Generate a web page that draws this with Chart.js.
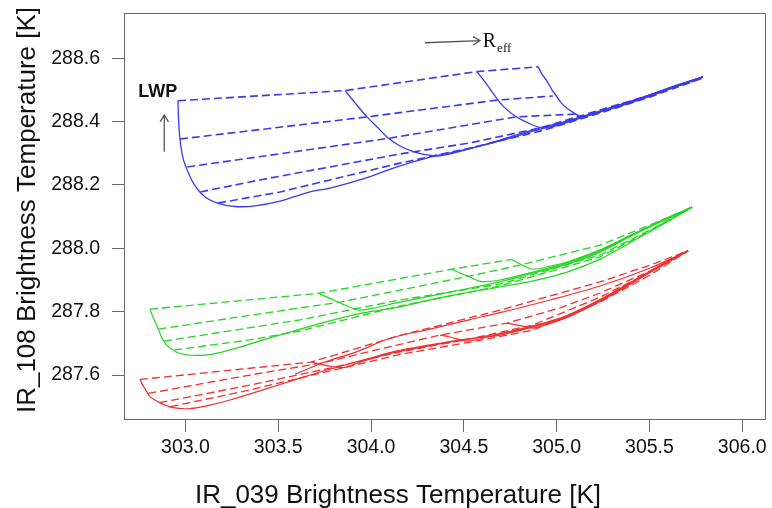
<!DOCTYPE html>
<html>
<head>
<meta charset="utf-8">
<script src="https://cdn.jsdelivr.net/npm/chart.js@4"></script>
<style>
  html, body { margin: 0; padding: 0; background: #fff; }
  #wrap { width: 772px; height: 508px; position: relative; }
</style>
</head>
<body>
<div id="wrap"><canvas id="lut"></canvas></div>
<script>
// Axis ticks
const xTicks = [303.0, 303.5, 304.0, 304.5, 305.0, 305.5, 306.0];
const yTicks = [287.6, 287.8, 288.0, 288.2, 288.4, 288.6];

// Blue table: curves of constant effective radius (solid), [IR_039, IR_108]
const blueReff1 = [[302.960,288.466],[302.963,288.405],[302.971,288.342],[302.987,288.285],[303.014,288.241],[303.052,288.197],[303.106,288.162],[303.176,288.142],[303.267,288.132],[303.375,288.134],[303.510,288.149],[303.671,288.178],[303.779,288.190],[303.957,288.219],[304.140,288.257],[304.318,288.288],[304.496,288.310],[304.695,288.339],[304.873,288.370],[305.056,288.399],[305.234,288.430],[305.412,288.462],[305.595,288.500],[305.788,288.541]];
const blueReff2 = [[303.860,288.498],[303.914,288.459],[303.978,288.415],[304.038,288.380],[304.092,288.348],[304.156,288.323],[304.221,288.307],[304.291,288.296],[304.372,288.292],[304.534,288.315],[304.695,288.342],[304.873,288.374],[305.056,288.402],[305.234,288.434],[305.412,288.467],[305.595,288.503],[305.788,288.541]];
const blueReff3 = [[304.570,288.558],[304.615,288.525],[304.657,288.490],[304.711,288.449],[304.776,288.418],[304.846,288.396],[304.911,288.382],[304.991,288.386],[305.126,288.412],[305.288,288.440],[305.450,288.471],[305.611,288.506],[305.788,288.541]];
const blueReff4 = [[304.901,288.573],[304.921,288.550],[304.948,288.528],[304.975,288.500],[305.002,288.478],[305.029,288.456],[305.056,288.442],[305.094,288.427],[305.137,288.416],[305.288,288.443],[305.450,288.473],[305.611,288.508],[305.788,288.541]];
// Blue table: lines of constant liquid water path (dashed)
const blueLwp1 = [[302.960,288.466],[303.860,288.498],[304.570,288.558],[304.901,288.573]];
const blueLwp2 = [[302.970,288.345],[303.978,288.415],[304.679,288.468],[304.980,288.481]];
const blueLwp3 = [[303.010,288.257],[304.092,288.347],[304.781,288.415],[305.104,288.424]];
const blueLwp4 = [[303.080,288.178],[303.402,288.216],[303.779,288.257],[304.156,288.298],[304.534,288.333],[304.911,288.380],[305.234,288.437],[305.504,288.484],[305.788,288.538]];
const blueLwp5 = [[303.176,288.143],[303.510,288.178],[303.779,288.216],[304.156,288.269],[304.534,288.317],[304.911,288.370],[305.234,288.427],[305.504,288.478],[305.788,288.538]];

// Green table
const greenReff1 = [[302.809,287.808],[302.825,287.783],[302.852,287.748],[302.879,287.711],[302.917,287.685],[302.971,287.668],[303.052,287.662],[303.149,287.666],[303.294,287.688],[303.418,287.711],[303.601,287.742],[303.779,287.771],[303.957,287.796],[304.156,287.815],[304.318,287.837],[304.479,287.856],[304.695,287.878],[304.873,287.897],[305.056,287.925],[305.234,287.966],[305.412,288.023],[305.595,288.083],[305.730,288.130]];
const greenReff2 = [[303.716,287.858],[303.779,287.842],[303.860,287.821],[303.941,287.805],[304.156,287.830],[304.426,287.862],[304.695,287.894],[304.873,287.922],[305.056,287.950],[305.234,287.988],[305.412,288.042],[305.595,288.093],[305.730,288.130]];
const greenReff3 = [[304.435,287.934],[304.479,287.922],[304.534,287.909],[304.596,287.895],[304.695,287.900],[304.873,287.925],[305.056,287.954],[305.234,287.992],[305.412,288.044],[305.595,288.094],[305.730,288.130]];
const greenReff4 = [[304.758,287.965],[304.792,287.954],[304.830,287.943],[304.874,287.934],[304.965,287.944],[305.056,287.957],[305.234,287.995],[305.412,288.045],[305.595,288.096],[305.730,288.130]];
const greenLwp1 = [[302.809,287.808],[303.716,287.858],[304.435,287.934],[304.758,287.965]];
const greenLwp2 = [[302.855,287.745],[303.617,287.812],[303.833,287.830],[304.156,287.868],[304.534,287.913],[304.803,287.947],[305.234,288.010],[305.503,288.074],[305.730,288.130]];
const greenLwp3 = [[302.885,287.707],[303.617,287.774],[304.156,287.837],[304.695,287.887],[305.234,287.979],[305.503,288.058],[305.730,288.130]];
const greenLwp4 = [[302.940,287.679],[303.348,287.711],[303.617,287.739],[304.156,287.818],[304.695,287.881],[305.234,287.973],[305.503,288.055],[305.730,288.130]];

// Red table
const redReff1 = [[302.755,287.586],[302.766,287.572],[302.782,287.557],[302.809,287.532],[302.863,287.512],[302.933,287.497],[303.025,287.494],[303.133,287.505],[303.240,287.521],[303.418,287.553],[303.601,287.587],[303.779,287.619],[303.957,287.647],[304.140,287.676],[304.318,287.695],[304.479,287.711],[304.695,287.726],[304.873,287.752],[305.056,287.783],[305.234,287.834],[305.412,287.894],[305.595,287.957],[305.708,287.992]];
const redReff2 = [[303.677,287.641],[303.736,287.633],[303.795,287.627],[303.860,287.624],[303.957,287.644],[304.140,287.673],[304.318,287.693],[304.479,287.709],[304.695,287.731],[304.873,287.755],[305.056,287.788],[305.234,287.838],[305.412,287.897],[305.595,287.958],[305.708,287.992]];
const redReff3 = [[304.372,287.726],[304.426,287.720],[304.479,287.712],[304.522,287.707],[304.695,287.729],[304.873,287.753],[305.056,287.786],[305.234,287.837],[305.412,287.895],[305.595,287.958],[305.708,287.992]];
const redReff4 = [[304.733,287.764],[304.776,287.759],[304.830,287.753],[304.873,287.748],[304.965,287.763],[305.056,287.782],[305.234,287.832],[305.412,287.892],[305.595,287.955],[305.708,287.992]];
const redReff5 = [[303.591,287.603],[303.752,287.641],[303.925,287.674],[304.102,287.716],[304.318,287.745],[304.534,287.775],[304.695,287.797],[304.965,287.837],[305.234,287.881],[305.504,287.938],[305.708,287.992]];
const redLwp1 = [[302.755,287.586],[303.677,287.641],[304.156,287.725],[304.695,287.805],[305.234,287.894],[305.504,287.947],[305.708,287.992]];
const redLwp2 = [[302.800,287.542],[303.348,287.600],[303.736,287.638],[304.048,287.682],[304.372,287.726],[304.733,287.764],[305.018,287.812],[305.234,287.859],[305.504,287.928],[305.708,287.992]];
const redLwp3 = [[302.860,287.513],[303.348,287.568],[303.779,287.622],[304.156,287.673],[304.534,287.714],[304.873,287.758],[305.234,287.846],[305.504,287.925],[305.708,287.992]];
const redLwp4 = [[302.920,287.500],[303.348,287.553],[303.779,287.613],[304.156,287.665],[304.534,287.704],[304.873,287.742],[305.234,287.830],[305.504,287.916],[305.708,287.992]];

const BLUE = 'rgb(58,58,238)';
const GREEN = 'rgb(34,214,34)';
const RED = 'rgb(240,48,48)';

function curve(arr, color, dashed, width) {
  return {
    data: arr.map(([x, y]) => ({ x, y })),
    borderColor: color,
    backgroundColor: color,
    borderWidth: width,
    borderDash: dashed ? [8, 4] : [],
    pointRadius: 0,
    pointHoverRadius: 0,
    showLine: true,
    fill: false,
    tension: dashed ? 0 : 0.3
  };
}

const datasets = [
  ...[blueReff1, blueReff2, blueReff3, blueReff4].map(a => curve(a, BLUE, false, 1.3)),
  ...[blueLwp1, blueLwp2, blueLwp3, blueLwp4, blueLwp5].map(a => curve(a, BLUE, true, 1.6)),
  ...[greenReff1, greenReff2, greenReff3, greenReff4].map(a => curve(a, GREEN, false, 1.2)),
  ...[greenLwp1, greenLwp2, greenLwp3, greenLwp4].map(a => curve(a, GREEN, true, 1.3)),
  ...[redReff1, redReff2, redReff3, redReff4, redReff5].map(a => curve(a, RED, false, 1.2)),
  ...[redLwp1, redLwp2, redLwp3, redLwp4].map(a => curve(a, RED, true, 1.3))
];

const SANS = '"Liberation Sans", Arial, Helvetica, sans-serif';
const SERIF = '"Liberation Serif", "Times New Roman", serif';

function arrow(ctx, x0, y0, x1, y1) {
  const ang = Math.atan2(y1 - y0, x1 - x0);
  const h = 8;
  ctx.beginPath();
  ctx.moveTo(x0, y0);
  ctx.lineTo(x1, y1);
  ctx.moveTo(x1 - h * Math.cos(ang - 0.55), y1 - h * Math.sin(ang - 0.55));
  ctx.lineTo(x1, y1);
  ctx.lineTo(x1 - h * Math.cos(ang + 0.55), y1 - h * Math.sin(ang + 0.55));
  ctx.stroke();
}

// Box around the plot region, axis titles and the LWP / Reff direction arrows
const decorations = {
  id: 'decorations',
  afterDraw(chart) {
    const { ctx, chartArea: a, scales: { x, y } } = chart;
    ctx.save();
    ctx.strokeStyle = '#6a6a6a';
    ctx.lineWidth = 1;
    ctx.strokeRect(a.left + 0.5, a.top + 0.5, a.width - 1, a.height - 1);

    ctx.fillStyle = '#111';
    ctx.font = '26px ' + SANS;
    ctx.textAlign = 'center';
    ctx.textBaseline = 'alphabetic';
    ctx.fillText('IR_039 Brightness Temperature [K]', 398, 503);
    ctx.save();
    ctx.translate(35, 210);
    ctx.rotate(-Math.PI / 2);
    ctx.fillText('IR_108 Brightness Temperature [K]', 0, 0);
    ctx.restore();

    // LWP increases upward
    ctx.textAlign = 'left';
    ctx.font = 'bold 18px ' + SANS;
    ctx.fillText('LWP', x.getPixelForValue(302.746), y.getPixelForValue(288.479));
    ctx.strokeStyle = '#555';
    ctx.lineWidth = 1.3;
    arrow(ctx, x.getPixelForValue(302.886), y.getPixelForValue(288.305),
               x.getPixelForValue(302.886), y.getPixelForValue(288.421));

    // Reff increases to the right
    arrow(ctx, x.getPixelForValue(304.291), y.getPixelForValue(288.649),
               x.getPixelForValue(304.587), y.getPixelForValue(288.656));
    const rx = x.getPixelForValue(304.602), ry = y.getPixelForValue(288.637);
    ctx.font = '20px ' + SERIF;
    ctx.fillText('R', rx, ry);
    const rw = ctx.measureText('R').width;
    ctx.font = '13px ' + SERIF;
    ctx.fillText('eff', rx + rw + 1, ry + 5);
    ctx.restore();
  }
};

const tickFont = { family: SANS, size: 19.5 };

new Chart(document.getElementById('lut'), {
  type: 'scatter',
  data: { datasets },
  options: {
    responsive: true,
    maintainAspectRatio: false,
    animation: false,
    events: [],
    layout: { padding: { left: 0, top: 13, right: 6, bottom: 0 } },
    plugins: { legend: { display: false }, tooltip: { enabled: false } },
    scales: {
      x: {
        type: 'linear',
        min: 302.669,
        max: 306.128,
        afterBuildTicks: s => { s.ticks = xTicks.map(v => ({ value: v })); },
        afterFit: s => { s.height = 88; s.paddingLeft = 0; s.paddingRight = 0; },
        ticks: { font: tickFont, color: '#111', padding: 4, maxRotation: 0, autoSkip: false,
                 callback: v => Number(v).toFixed(1) },
        grid: { drawOnChartArea: false, drawTicks: true, tickLength: 12, color: '#6a6a6a', lineWidth: 1 },
        border: { display: false }
      },
      y: {
        type: 'linear',
        min: 287.458,
        max: 288.743,
        afterBuildTicks: s => { s.ticks = yTicks.map(v => ({ value: v })); },
        afterFit: s => { s.width = 124; s.paddingTop = 0; s.paddingBottom = 0; },
        ticks: { font: tickFont, color: '#111', padding: 12, autoSkip: false,
                 callback: v => Number(v).toFixed(1) },
        grid: { drawOnChartArea: false, drawTicks: true, tickLength: 12, color: '#6a6a6a', lineWidth: 1 },
        border: { display: false }
      }
    }
  },
  plugins: [decorations]
});
</script>
</body>
</html>
